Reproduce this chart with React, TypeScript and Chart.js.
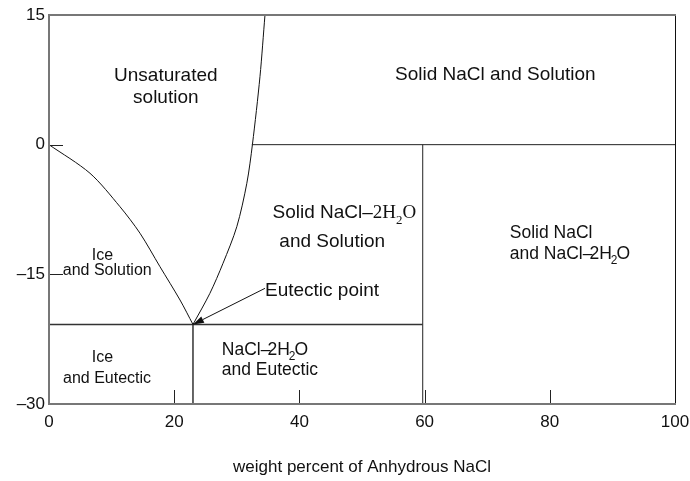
import React, { useEffect, useRef } from "react";
import { Chart, registerables } from "chart.js";

Chart.register(...registerables);

// ---- data ----
const xTickValues = [0, 20, 40, 60, 80, 100];
const yTickValues = [15, 0, -15, -30];
const xTickMarks = [20, 40, 60, 80];
const yTickMarks = [0, -15];

const iceCurveX = [0, 6.55, 11.34, 14.54, 17.73, 20.93, 23.0];
const iceCurveY = [0, -3.31, -7.18, -10.25, -14.12, -17.97, -20.8];

const solCurveX = [23.0, 25.7, 27.8, 30.0, 31.6, 32.5, 33.7, 34.5];
const solCurveY = [-20.8, -17.2, -13.72, -9.49, -4.47, 0.04, 7.86, 15];

const eutecticX = 23.0;
const eutecticT = -20.8;
const dihydrateX = 59.7;
const peritecticT = 0;
const peritecticStartX = 32.4;

const SANS = "'Liberation Sans', Arial, sans-serif";
const SERIF = "'Liberation Serif', 'Times New Roman', serif";

type Seg = { t: string; serif?: boolean; sub?: boolean; kern?: number };
type Label = { x: number; y: number; size: number; align: "left" | "center"; segs: Seg[] };

const labels: Label[] = [
  { x: 18.66, y: 7.4, size: 19, align: "center", segs: [{ t: "Unsaturated" }] },
  { x: 18.66, y: 4.85, size: 19, align: "center", segs: [{ t: "solution" }] },
  { x: 71.3, y: 7.48, size: 19, align: "center", segs: [{ t: "Solid NaCl and Solution" }] },
  {
    x: 35.7, y: -8.48, size: 19, align: "left",
    segs: [{ t: "Solid NaCl–" }, { t: "2H", serif: true }, { t: "2", serif: true, sub: true }, { t: "O", serif: true }],
  },
  { x: 36.8, y: -11.84, size: 19, align: "left", segs: [{ t: "and Solution" }] },
  { x: 8.55, y: -13.34, size: 16, align: "center", segs: [{ t: "Ice" }] },
  { x: 9.3, y: -15.08, size: 16, align: "center", segs: [{ t: "and Solution" }] },
  { x: 8.55, y: -25.11, size: 16, align: "center", segs: [{ t: "Ice" }] },
  { x: 9.27, y: -27.54, size: 16, align: "center", segs: [{ t: "and Eutectic" }] },
  {
    x: 27.6, y: -24.33, size: 17.5, align: "left",
    segs: [{ t: "NaCl–" }, { t: "2H", kern: -3 }, { t: "2", sub: true, kern: -1 }, { t: "O", kern: -1 }],
  },
  { x: 27.6, y: -26.65, size: 17.5, align: "left", segs: [{ t: "and Eutectic" }] },
  { x: 73.6, y: -10.8, size: 17.5, align: "left", segs: [{ t: "Solid NaCl" }] },
  {
    x: 73.6, y: -13.23, size: 17.5, align: "left",
    segs: [{ t: "and NaCl–" }, { t: "2H", kern: -3 }, { t: "2", sub: true, kern: -1 }, { t: "O", kern: -1 }],
  },
  { x: 34.5, y: -17.51, size: 19, align: "left", segs: [{ t: "Eutectic point" }] },
];

const arrowFrom = { x: 34.5, y: -16.62 };
const arrowTo = { x: eutecticX, y: eutecticT };

const toPts = (xs: number[], ys: number[]) => xs.map((x, i) => ({ x, y: ys[i] }));

const overlayPlugin = {
  id: "overlay",
  afterDatasetsDraw(chart: any) {
    const { ctx, chartArea } = chart;
    const xs = chart.scales.x;
    const ys = chart.scales.y;
    const { left, right, top, bottom } = chartArea;
    ctx.save();

    // inner tick marks
    ctx.strokeStyle = "#222";
    ctx.lineWidth = 1;
    ctx.beginPath();
    yTickMarks.forEach((v) => {
      const py = Math.round(ys.getPixelForValue(v)) + 0.5;
      ctx.moveTo(left, py);
      ctx.lineTo(left + 14, py);
    });
    xTickMarks.forEach((v) => {
      const px = Math.round(xs.getPixelForValue(v)) + 0.5;
      ctx.moveTo(px, bottom);
      ctx.lineTo(px, bottom - 14);
    });
    ctx.stroke();

    // right border
    ctx.strokeStyle = "#111";
    ctx.lineWidth = 1;
    ctx.beginPath();
    ctx.moveTo(right + 0.5, top);
    ctx.lineTo(right + 0.5, bottom);
    ctx.stroke();

    // frame (gray axes)
    ctx.strokeStyle = "#777";
    ctx.lineWidth = 2;
    ctx.beginPath();
    ctx.moveTo(right + 1, top);
    ctx.lineTo(left, top);
    ctx.lineTo(left, bottom);
    ctx.lineTo(right + 1, bottom);
    ctx.stroke();

    // arrow
    const x0 = xs.getPixelForValue(arrowFrom.x);
    const y0 = ys.getPixelForValue(arrowFrom.y);
    const x1 = xs.getPixelForValue(arrowTo.x);
    const y1 = ys.getPixelForValue(arrowTo.y);
    const ang = Math.atan2(y1 - y0, x1 - x0);
    const hl = 11;
    const hw = 3.5;
    const bx = x1 - hl * Math.cos(ang);
    const by = y1 - hl * Math.sin(ang);
    ctx.strokeStyle = "#111";
    ctx.lineWidth = 1;
    ctx.beginPath();
    ctx.moveTo(x0, y0);
    ctx.lineTo(bx, by);
    ctx.stroke();
    ctx.fillStyle = "#111";
    ctx.beginPath();
    ctx.moveTo(x1, y1);
    ctx.lineTo(bx + hw * Math.sin(ang), by - hw * Math.cos(ang));
    ctx.lineTo(bx - hw * Math.sin(ang), by + hw * Math.cos(ang));
    ctx.closePath();
    ctx.fill();

    // labels
    ctx.fillStyle = "#111";
    ctx.textBaseline = "alphabetic";
    ctx.textAlign = "left";
    labels.forEach((lb) => {
      const px = xs.getPixelForValue(lb.x);
      const py = ys.getPixelForValue(lb.y);
      const parts = lb.segs.map((s) => {
        const fs = s.sub ? lb.size * 0.68 : lb.size;
        const font = `${fs}px ${s.serif ? SERIF : SANS}`;
        ctx.font = font;
        const w = ctx.measureText(s.t).width;
        return { ...s, font, w };
      });
      const total = parts.reduce((a, p) => a + p.w + (p.kern || 0), 0);
      let cx = lb.align === "center" ? px - total / 2 : px;
      parts.forEach((p) => {
        cx += p.kern || 0;
        ctx.font = p.font;
        ctx.fillText(p.t, cx, py + (p.sub ? lb.size * 0.3 : 0));
        cx += p.w;
      });
    });

    ctx.restore();
  },
};

export default function App() {
  const ref = useRef<HTMLCanvasElement | null>(null);

  useEffect(() => {
    if (!ref.current) return;
    const lineStyle = {
      showLine: true,
      pointRadius: 0,
      pointHoverRadius: 0,
      fill: false,
    };
    const chart = new Chart(ref.current, {
      type: "scatter",
      data: {
        datasets: [
          {
            ...lineStyle,
            label: "ice liquidus",
            data: toPts(iceCurveX, iceCurveY),
            borderColor: "#111",
            borderWidth: 1,
            tension: 0.3,
          } as any,
          {
            ...lineStyle,
            label: "solubility",
            data: toPts(solCurveX, solCurveY),
            borderColor: "#111",
            borderWidth: 1,
            tension: 0.3,
          } as any,
          {
            ...lineStyle,
            label: "eutectic",
            data: [
              { x: 0, y: eutecticT },
              { x: dihydrateX, y: eutecticT },
            ],
            borderColor: "#333",
            borderWidth: 1.5,
          },
          {
            ...lineStyle,
            label: "peritectic",
            data: [
              { x: peritecticStartX, y: peritecticT },
              { x: 100, y: peritecticT },
            ],
            borderColor: "#222",
            borderWidth: 1,
          },
          {
            ...lineStyle,
            label: "eutectic composition",
            data: [
              { x: eutecticX, y: -30 },
              { x: eutecticX, y: eutecticT },
            ],
            borderColor: "#333",
            borderWidth: 1.5,
          },
          {
            ...lineStyle,
            label: "dihydrate",
            data: [
              { x: dihydrateX, y: -30 },
              { x: dihydrateX, y: peritecticT },
            ],
            borderColor: "#222",
            borderWidth: 1,
          },
        ],
      },
      options: {
        animation: false,
        responsive: false,
        maintainAspectRatio: false,
        events: [],
        layout: { padding: { left: 0, top: 15, right: 15, bottom: 0 } },
        plugins: {
          legend: { display: false },
          tooltip: { enabled: false },
          title: { display: false },
        },
        scales: {
          x: {
            type: "linear",
            min: 0,
            max: 100,
            afterBuildTicks: (s: any) => {
              s.ticks = xTickValues.map((v) => ({ value: v }));
            },
            afterFit: (s: any) => {
              s.height = 77;
              s.paddingLeft = 0;
              s.paddingRight = 0;
            },
            grid: { display: false, drawTicks: false },
            border: { display: false },
            ticks: {
              color: "#111",
              font: { family: SANS, size: 17 },
              padding: 8,
              maxRotation: 0,
              autoSkip: false,
              callback: (v: any) => String(v),
            },
            title: {
              display: true,
              text: "weight percent of Anhydrous NaCl",
              color: "#111",
              font: { family: SANS, size: 17 },
              padding: { top: 0, bottom: 3 },
            },
          },
          y: {
            type: "linear",
            min: -30,
            max: 15,
            afterBuildTicks: (s: any) => {
              s.ticks = yTickValues.map((v) => ({ value: v }));
            },
            afterFit: (s: any) => {
              s.width = 49;
              s.paddingTop = 0;
              s.paddingBottom = 0;
            },
            grid: { display: false, drawTicks: false },
            border: { display: false },
            ticks: {
              color: "#111",
              font: { family: SANS, size: 17 },
              padding: 4,
              autoSkip: false,
              callback: (v: any) => (v < 0 ? "–" + Math.abs(v) : String(v)),
            },
          },
        },
      } as any,
      plugins: [overlayPlugin],
    });
    return () => chart.destroy();
  }, []);

  return (
    <div style={{ position: "fixed", left: 0, top: 0, width: 690, height: 481, background: "#fff" }}>
      <canvas ref={ref} width={690} height={481} style={{ display: "block", width: 690, height: 481 }} />
    </div>
  );
}
